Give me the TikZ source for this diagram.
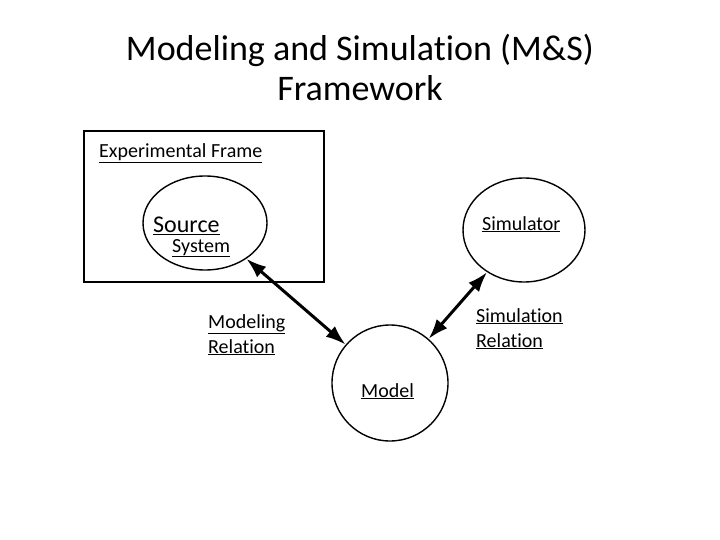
\documentclass[tikz,border=0pt]{standalone}
\usepackage{fontspec}
\setmainfont{Carlito}[Ligatures=NoCommon]
\usetikzlibrary{arrows.meta,shapes.geometric}
\tikzset{
  every picture/.style={x=1pt, y=-1pt, font=\fontsize{20}{25}\selectfont},
  blob/.style={draw, ellipse, line width=1.4pt, inner sep=0pt},
  lbl/.style={inner sep=0pt, anchor=base west},
  rel/.style={inner sep=0pt, anchor=north west, align=left},
  link/.style={<->, line width=3pt, >={Latex[length=20pt,width=14pt]}},
}
\newcommand{\ul}[1]{\underline{#1}}
\begin{document}
\begin{tikzpicture}
  \path[use as bounding box] (0,0) rectangle (720,540);
  % title
  \node[align=center, font=\fontsize{36}{40}\selectfont] (title) at (360,67)
    {Modeling and Simulation (M\&S)\\Framework};
  % experimental frame with the source system
  \node[draw, line width=1.8pt, minimum width=240pt, minimum height=151pt] (frame) at (204,206.5) {};
  \node[lbl] (eflbl) at (99,158) {\ul{Experimental Frame}};
  \node[blob, minimum width=124pt, minimum height=94pt] (src) at (205,223) {};
  \node[lbl, font=\fontsize{24}{28}\selectfont] (srclbl) at (153,233) {\ul{Source}};
  \node[lbl] (syslbl) at (172,252) {\ul{System}};
  % simulator and model
  \node[blob, minimum width=122pt, minimum height=104pt] (sim) at (524,230) {};
  \node[lbl] (simlbl) at (482,230) {\ul{Simulator}};
  \node[blob, circle, minimum size=116pt] (model) at (390,383) {};
  \node[lbl] (modlbl) at (361,397) {\ul{Model}};
  % relations
  \draw[link] (src) -- (model);
  \draw[link] (sim) -- (model);
  \node[rel] (mrel) at (208,314) {\ul{Modeling}\\\ul{Relation}};
  \node[rel] (srel) at (476,308) {\ul{Simulation}\\\ul{Relation}};
\end{tikzpicture}
\end{document}
